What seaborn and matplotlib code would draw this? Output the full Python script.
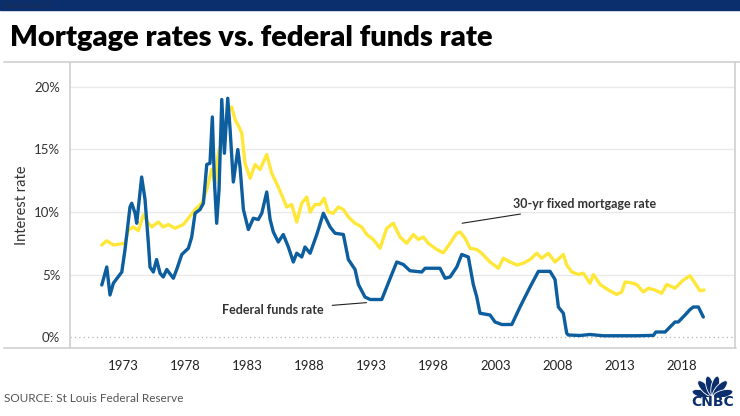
import matplotlib
matplotlib.use("Agg")
import matplotlib.pyplot as plt
from matplotlib.lines import Line2D
from matplotlib.patches import Ellipse, Rectangle
import numpy as np
import pandas as pd
import seaborn as sns

# ---------------- data ----------------
fed_years = [1971.29, 1971.69, 1971.95, 1972.22, 1972.9, 1973.16, 1973.56, 1973.7, 1973.97, 1974.1,
             1974.5, 1974.77, 1975.04, 1975.17, 1975.44, 1975.7, 1975.98, 1976.24, 1976.52, 1977.05,
             1977.32, 1977.73, 1978.26, 1978.53, 1978.8, 1979.2, 1979.47, 1979.74, 1980.0, 1980.19,
             1980.35, 1980.54, 1980.73, 1980.95, 1981.16, 1981.43, 1981.62, 1981.88, 1982.24, 1982.42,
             1982.69, 1983.09, 1983.49, 1983.89, 1984.17, 1984.57, 1984.84, 1985.1, 1985.5, 1985.9,
             1986.31, 1986.71, 1986.98, 1987.39, 1987.65, 1988.06, 1988.6, 1989.13, 1989.67, 1990.07,
             1990.74, 1991.14, 1991.68, 1991.95, 1992.48, 1992.89, 1993.83, 1994.23, 1994.63, 1995.04,
             1995.57, 1996.1, 1997.05, 1997.32, 1998.52, 1998.93, 1999.33, 1999.87, 2000.27, 2000.8,
             2001.2, 2001.48, 2001.74, 2002.55, 2002.95, 2003.49, 2004.3, 2004.96, 2005.77, 2006.44,
             2007.38, 2007.78, 2008.05, 2008.45, 2008.72, 2008.85, 2009.8, 2010.6, 2011.67, 2013.0,
             2014.36, 2015.7, 2015.9, 2016.64, 2017.04, 2017.44, 2017.7, 2018.25, 2018.65, 2018.92,
             2019.32, 2019.72]
fed_rate = [4.16, 5.6, 3.36, 4.3, 5.2, 7.0, 10.4, 10.7, 9.9, 9.1,
            12.8, 11.0, 7.5, 5.6, 5.2, 6.2, 5.1, 4.8, 5.4, 4.7,
            5.4, 6.6, 7.1, 8.0, 9.9, 10.2, 10.7, 13.8, 13.9, 17.6,
            12.6, 9.1, 11.8, 19.0, 14.7, 19.1, 16.6, 12.4, 15.0, 13.6,
            10.2, 8.6, 9.5, 9.4, 9.9, 11.6, 9.4, 8.4, 7.6, 8.2,
            7.2, 6.0, 6.7, 6.4, 7.2, 6.7, 8.2, 9.9, 8.8, 8.3,
            8.2, 6.2, 5.4, 4.2, 3.2, 3.0, 3.0, 4.0, 5.0, 6.0,
            5.8, 5.3, 5.2, 5.5, 5.5, 4.7, 4.8, 5.6, 6.6, 6.4,
            4.2, 3.2, 1.9, 1.76, 1.2, 1.0, 1.0, 2.4, 4.0, 5.25,
            5.25, 4.6, 2.4, 1.9, 0.3, 0.16, 0.12, 0.2, 0.1, 0.1,
            0.1, 0.13, 0.4, 0.4, 0.8, 1.2, 1.2, 1.76, 2.2, 2.4,
            2.4, 1.6]

mort_years = [1971.29, 1971.69, 1972.22, 1973.16, 1973.43, 1973.83, 1974.23, 1974.63, 1975.04, 1975.31,
              1975.84, 1976.24, 1976.65, 1977.19, 1977.86, 1978.26, 1978.8, 1979.34, 1979.74, 1980.14,
              1980.41, 1980.67, 1981.08, 1981.48, 1981.75, 1982.02, 1982.34, 1982.56, 1982.82, 1983.23,
              1983.63, 1984.03, 1984.57, 1984.97, 1985.5, 1986.18, 1986.58, 1986.98, 1987.39, 1987.79,
              1988.06, 1988.46, 1988.86, 1989.18, 1989.53, 1989.93, 1990.33, 1990.74, 1991.14, 1991.68,
              1992.22, 1992.62, 1993.15, 1993.69, 1994.23, 1994.76, 1995.3, 1995.84, 1996.37, 1996.78,
              1997.18, 1997.58, 1998.26, 1998.79, 1999.33, 1999.87, 2000.13, 2000.54, 2000.94, 2001.48,
              2001.88, 2002.55, 2003.22, 2003.62, 2004.16, 2004.7, 2005.23, 2005.77, 2006.31, 2006.71,
              2007.24, 2007.78, 2008.45, 2008.72, 2009.13, 2009.66, 2010.06, 2010.6, 2010.87, 2011.41,
              2012.08, 2012.75, 2013.15, 2013.42, 2013.82, 2014.36, 2014.89, 2015.29, 2015.83, 2016.37,
              2016.78, 2017.44, 2018.11, 2018.65, 2019.05, 2019.45, 2019.78]
mort_rate = [7.36, 7.7, 7.36, 7.5, 8.56, 8.8, 8.5, 9.76, 9.1, 8.8,
             9.2, 8.8, 9.0, 8.7, 9.0, 9.5, 10.2, 10.7, 11.8, 13.4,
             12.3, 14.7, 16.0, 18.2, 18.4, 17.4, 16.8, 16.3, 13.9, 12.7,
             13.8, 13.4, 14.6, 13.1, 12.0, 10.4, 10.6, 9.2, 10.7, 11.2,
             10.0, 10.6, 10.6, 11.1, 10.0, 9.9, 10.4, 10.2, 9.6, 9.1,
             8.8, 8.2, 7.8, 7.1, 8.7, 9.1, 8.0, 7.5, 8.2, 7.8,
             8.0, 7.5, 7.0, 6.74, 7.5, 8.3, 8.4, 7.9, 7.1, 7.0,
             6.7, 6.0, 5.5, 6.3, 6.0, 5.76, 5.9, 6.2, 6.7, 6.3,
             6.7, 6.0, 6.6, 5.76, 5.2, 5.0, 5.1, 4.3, 5.0, 4.2,
             3.76, 3.4, 3.6, 4.4, 4.35, 4.2, 3.6, 3.9, 3.76, 3.5,
             4.2, 3.9, 4.56, 4.9, 4.3, 3.7, 3.76]

tick_years = [1973, 1978, 1983, 1988, 1993, 1998, 2003, 2008, 2013, 2018]
y_ticks = [0, 5, 10, 15, 20]

title = "Mortgage rates vs. federal funds rate"
source = "SOURCE: St Louis Federal Reserve"

# ---------------- figure ----------------
W, H = 740, 416
sns.set_theme(style="white")
plt.rcParams["font.family"] = ["Lato", "DejaVu Sans"]

fig = plt.figure(figsize=(W / 100, H / 100), dpi=100)

def fx(px):
    return px / W

def fy(py):
    return 1 - py / H

ax = fig.add_axes([fx(70), fy(348), fx(735) - fx(70), fy(62) - fy(348)])

YELLOW = "#FFE73A"
BLUE = "#0D5E9E"
NAVY = "#0B2F6C"

mort_df = pd.DataFrame({"year": mort_years, "rate": mort_rate})
fed_df = pd.DataFrame({"year": fed_years, "rate": fed_rate})

# gridlines
for v in y_ticks[1:]:
    ax.axhline(v, color="#e9e9e9", lw=1.0, zorder=0)
ax.axhline(0, color="#b5b5b5", lw=0.9, ls=(0, (1, 2.5)), zorder=0)

sns.lineplot(data=mort_df, x="year", y="rate", ax=ax, color=YELLOW, lw=2.4, zorder=2)
sns.lineplot(data=fed_df, x="year", y="rate", ax=ax, color=BLUE, lw=2.4, zorder=3)

ax.set_xlim(1968.73, 2022.27)
ax.set_ylim(-0.88, 22.0)
ax.set_yticks(y_ticks)
ax.set_yticklabels([f"{v}%" for v in y_ticks], fontsize=9.5, color="#333333")
ax.set_xticks(tick_years)
ax.set_xticklabels([str(t) for t in tick_years], fontsize=9.5, color="#222222")
ax.set_xticks(np.arange(1969, 2023, 1), minor=True)
ax.tick_params(axis="x", which="minor", length=3, color="#dddddd", direction="out", width=0.8)
ax.tick_params(axis="x", which="major", length=0, pad=9)
ax.tick_params(axis="y", length=0, pad=7)
ax.set_xlabel("")
ax.set_ylabel("Interest rate", fontsize=10.5, color="#333333", labelpad=4)
for s in ax.spines.values():
    s.set_visible(False)

# annotations
ax.annotate("30-yr fixed mortgage rate", xy=(2000.3, 9.1), xytext=(2004.4, 10.65),
            fontsize=9, fontweight="bold", color="#333333", va="center", ha="left",
            arrowprops=dict(arrowstyle="-", color="#222222", lw=0.8, shrinkB=0, shrinkA=4))
ax.annotate("Federal funds rate", xy=(1992.6, 2.75), xytext=(1980.95, 2.15),
            fontsize=9, fontweight="bold", color="#333333", va="center", ha="left",
            arrowprops=dict(arrowstyle="-", color="#222222", lw=0.8, shrinkB=0, shrinkA=4))

# frame lines
frame_kw = dict(color="#cfcfcf", lw=1.2, transform=fig.transFigure)
fig.add_artist(Line2D([fx(4), fx(740)], [fy(62), fy(62)], **frame_kw))
fig.add_artist(Line2D([fx(4), fx(736)], [fy(348), fy(348)], **frame_kw))
fig.add_artist(Line2D([fx(70), fx(70)], [fy(62), fy(348)], **frame_kw))
fig.add_artist(Line2D([fx(735), fx(735)], [fy(62), fy(348)], **frame_kw))

# top dashboard bar
fig.add_artist(Rectangle((0, fy(10)), 1, fy(0) - fy(10), transform=fig.transFigure,
                         color=NAVY, zorder=0))
fig.text(fx(3), fy(5), "Dashboard 1", fontsize=6, color="#1c2c4f", va="center", ha="left")

# title
fig.text(fx(10), fy(38), title, fontsize=21, fontweight="heavy", color="#000000",
         va="center", ha="left")

# source
fig.text(fx(4), fy(398), source, fontsize=8.5, color="#555555", va="center", ha="left")

# CNBC logo (peacock fan + wordmark) in a pixel-scaled overlay axes
lx0, ly0, lw_, lh_ = 680, 366, 60, 46
lax = fig.add_axes([fx(lx0), fy(ly0 + lh_), fx(lw_), fy(ly0) - fy(ly0 + lh_)])
lax.set_xlim(0, lw_)
lax.set_ylim(0, lh_)
lax.axis("off")
ccx, ccy = 32.5, 15.5
for ang in [166, 133, 104, 76, 47, 14]:
    r = np.deg2rad(ang)
    ex, ey = ccx + 11.0 * np.cos(r), ccy + 11.0 * np.sin(r)
    lax.add_patch(Ellipse((ex, ey), width=7.6, height=20, angle=ang - 90,
                          fc=NAVY, ec="white", lw=0.6))
lax.add_patch(Rectangle((8, 4), 49, 11, color="white", lw=0, zorder=3))
lax.text(32.5, 9.5, "CNBC", fontsize=10, fontweight="heavy", color=NAVY,
         va="center", ha="center", family=["DejaVu Sans"], zorder=4, clip_on=False)

fig.savefig("out.png", dpi=100)
